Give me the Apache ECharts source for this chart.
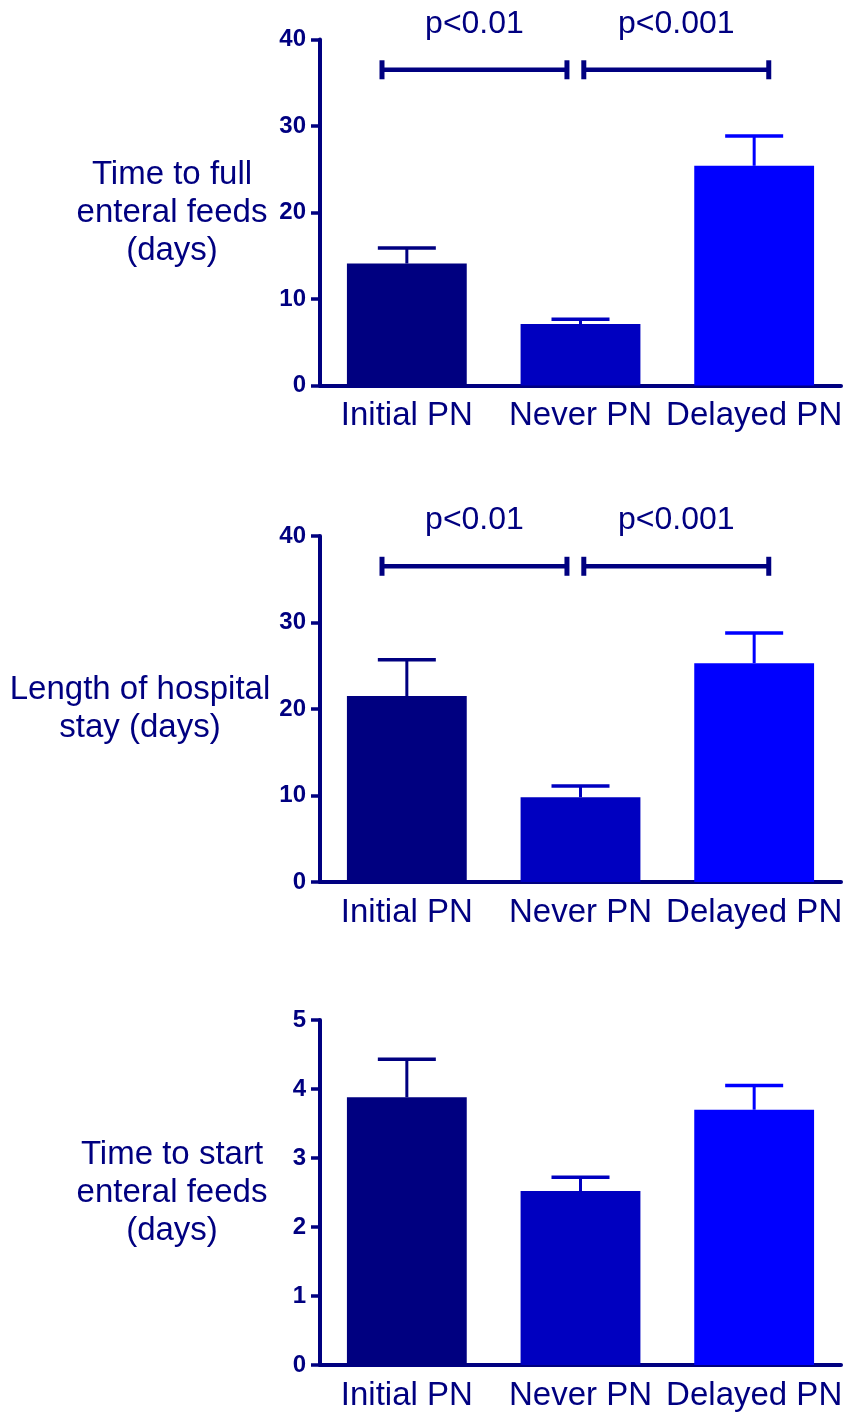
<!DOCTYPE html>
<html>
<head>
<meta charset="utf-8">
<script src="https://cdn.jsdelivr.net/npm/echarts@6/dist/echarts.min.js"></script>
<style>
  html, body { margin: 0; padding: 0; background: #fff; }
  #chart { width: 846px; height: 1414px; }
</style>
</head>
<body>
<div id="chart"></div>
<script>
// Groups compared in every panel
const categories = ['Initial PN', 'Never PN', 'Delayed PN'];

// Panel 1: time to full enteral feeds (days), mean and SEM
const fullFeedMean = [14.1, 7.1, 25.4];
const fullFeedErr = [1.8, 0.55, 3.45];

// Panel 2: length of hospital stay (days), mean and SEM
const stayMean = [21.5, 9.8, 25.3];
const stayErr = [4.2, 1.3, 3.5];

// Panel 3: time to start enteral feeds (days), mean and SEM
const startFeedMean = [3.88, 2.52, 3.70];
const startFeedErr = [0.55, 0.2, 0.35];

// Significance brackets (x in category units, y in axis units) and their labels
const bracketStart = [-0.143, 1.019];
const bracketEnd = [0.922, 2.084];
const bracketLevel = 36.5;
const bracketLabels = ['p<0.01', 'p<0.001'];

// Axis titles
const axisTitles = [
  'Time to full\nenteral feeds\n(days)',
  'Length of hospital\nstay (days)',
  'Time to start\nenteral feeds\n(days)'
];
const yMax = [40, 40, 5];
const yStep = [10, 10, 1];

const NAVY = '#000080';
const barColors = ['#000080', '#0000C0', '#0000FF'];
const FONT = '"Liberation Sans", Arial, Helvetica, sans-serif';

const panels = [
  { mean: fullFeedMean, err: fullFeedErr, brackets: true },
  { mean: stayMean, err: stayErr, brackets: true },
  { mean: startFeedMean, err: startFeedErr, brackets: false }
];

const gridTops = [39.5, 536, 1020];
const gridHeights = [346, 346, 345];
const nameGaps = [148, 180, 148];

const grid = [], xAxis = [], yAxis = [], series = [];

panels.forEach((p, i) => {
  grid.push({ left: 320, right: 5, top: gridTops[i], height: gridHeights[i], containLabel: false });

  // visible category axis
  xAxis.push({
    type: 'category', gridIndex: i, data: categories,
    axisLine: { onZero: false, lineStyle: { color: NAVY, width: 4 } },
    axisTick: { alignWithLabel: true, length: 9, lineStyle: { color: NAVY, width: 4 } },
    axisLabel: { color: NAVY, fontSize: 33, fontFamily: FONT, margin: 14, interval: 0 },
    splitLine: { show: false }
  });
  // hidden value axis in category units, used for the bracket positions
  xAxis.push({
    type: 'value', gridIndex: i, min: -0.5, max: 2.5, show: false,
    splitLine: { show: false }
  });

  yAxis.push({
    type: 'value', gridIndex: i, min: 0, max: yMax[i], interval: yStep[i],
    position: 'left',
    name: axisTitles[i], nameLocation: 'middle', nameRotate: 0, nameGap: nameGaps[i],
    nameTextStyle: {
      color: NAVY, fontSize: 33, fontFamily: FONT, lineHeight: 38,
      align: 'center', verticalAlign: 'middle', padding: [6, 0, 0, 0]
    },
    axisLine: { show: true, onZero: false, lineStyle: { color: NAVY, width: 4 } },
    axisTick: { show: true, length: 9, lineStyle: { color: NAVY, width: 3.5 } },
    axisLabel: { color: NAVY, fontSize: 24, fontWeight: 'bold', fontFamily: FONT, margin: 14 },
    splitLine: { show: false }
  });

  series.push({
    type: 'bar', xAxisIndex: 2 * i, yAxisIndex: i,
    barCategoryGap: '31%',
    data: p.mean.map((v, k) => ({ value: v, itemStyle: { color: barColors[k] } })),
    silent: true, z: 2
  });

  // upward error bars
  series.push({
    type: 'custom', xAxisIndex: 2 * i, yAxisIndex: i, z: 3, silent: true, clip: false,
    data: p.mean.map((v, k) => [k, v, p.err[k]]),
    renderItem: (params, api) => {
      const k = api.value(0);
      const base = api.coord([k, api.value(1)]);
      const top = api.coord([k, api.value(1) + api.value(2)]);
      const half = 29;
      const color = barColors[k];
      return {
        type: 'group',
        children: [
          { type: 'line', shape: { x1: base[0], y1: base[1], x2: top[0], y2: top[1] },
            style: { stroke: color, lineWidth: 3 } },
          { type: 'line', shape: { x1: top[0] - half, y1: top[1], x2: top[0] + half, y2: top[1] },
            style: { stroke: color, lineWidth: 3.5 } }
        ]
      };
    }
  });

  if (p.brackets) {
    series.push({
      type: 'custom', xAxisIndex: 2 * i + 1, yAxisIndex: i, z: 4, silent: true, clip: false,
      data: bracketStart.map((s, k) => [s, bracketEnd[k], bracketLevel, k]),
      renderItem: (params, api) => {
        const a = api.coord([api.value(0), api.value(2)]);
        const b = api.coord([api.value(1), api.value(2)]);
        const cap = 9.5;
        const label = bracketLabels[api.value(3)];
        return {
          type: 'group',
          children: [
            { type: 'line', shape: { x1: a[0], y1: a[1], x2: b[0], y2: b[1] },
              style: { stroke: NAVY, lineWidth: 4.5 } },
            { type: 'line', shape: { x1: a[0], y1: a[1] - cap, x2: a[0], y2: a[1] + cap },
              style: { stroke: NAVY, lineWidth: 5 } },
            { type: 'line', shape: { x1: b[0], y1: b[1] - cap, x2: b[0], y2: b[1] + cap },
              style: { stroke: NAVY, lineWidth: 5 } },
            { type: 'text',
              style: { text: label, x: (a[0] + b[0]) / 2, y: a[1] - 46,
                       align: 'center', verticalAlign: 'middle',
                       font: '32px ' + FONT, fill: NAVY } }
          ]
        };
      }
    });
  }
});

const chart = echarts.init(document.getElementById('chart'), null, { renderer: 'canvas' });
chart.setOption({
  animation: false,
  backgroundColor: '#ffffff',
  grid, xAxis, yAxis, series
});
</script>
</body>
</html>
